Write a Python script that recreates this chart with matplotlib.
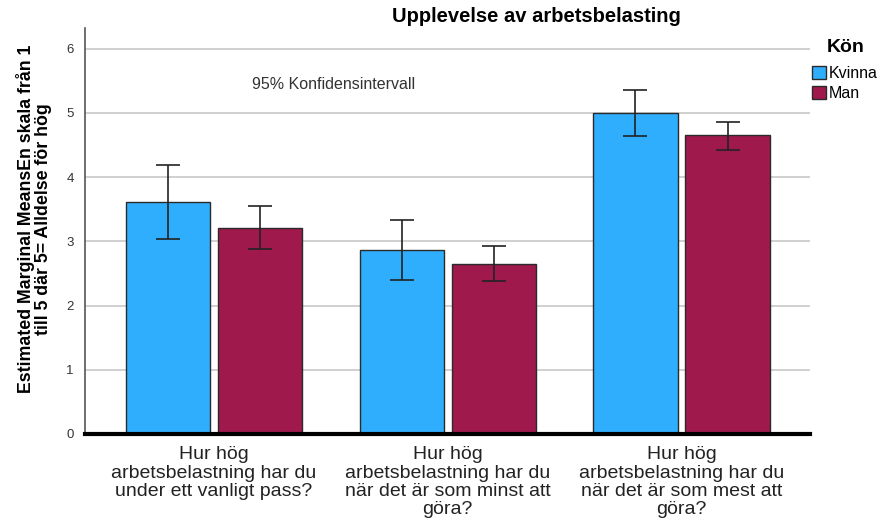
import numpy as np
import matplotlib
matplotlib.use('Agg')
import matplotlib.pyplot as plt
from matplotlib.patches import Patch

plt.rcParams['font.family'] = ['Liberation Sans', 'DejaVu Sans']

categories = ['Hur hög\narbetsbelastning har du\nunder ett vanligt pass?',
              'Hur hög\narbetsbelastning har du\nnär det är som minst att\ngöra?',
              'Hur hög\narbetsbelastning har du\nnär det är som mest att\ngöra?']
kvinna_mean = [3.62, 2.86, 5.00]
kvinna_low = [3.04, 2.40, 4.64]
kvinna_high = [4.19, 3.34, 5.36]
man_mean = [3.21, 2.64, 4.66]
man_low = [2.88, 2.38, 4.43]
man_high = [3.55, 2.92, 4.86]

blue = '#30aefe'
red = '#a0194d'

fig = plt.figure(figsize=(8.82, 5.21), dpi=100)
ax = fig.add_axes([0.0964, 0.167, 0.822, 0.779])

x = np.arange(len(categories))
w = 0.36
off = 0.197

for xs, m, lo, hi, c in [(x - off, kvinna_mean, kvinna_low, kvinna_high, blue),
                         (x + off, man_mean, man_low, man_high, red)]:
    m = np.array(m)
    err = [m - np.array(lo), np.array(hi) - m]
    ax.bar(xs, m, width=w, color=c, edgecolor='#2a2a2a', linewidth=1.0, zorder=2)
    ax.errorbar(xs, m, yerr=err, fmt='none', ecolor='#222222', elinewidth=1.2,
                capsize=8.7, capthick=1.2, zorder=3)

ax.set_xlim(-0.552, 2.55)
ax.set_ylim(0, 6.32)
ax.set_yticks(range(7))
ax.yaxis.grid(True, color='#c8c8c8', linewidth=1.2, zorder=0)
ax.set_axisbelow(True)
ax.tick_params(axis='y', length=0, labelsize=9.5, colors='#333333', pad=8)
ax.set_xticks(x)
ax.set_xticklabels(categories, fontsize=14, color='#222222', linespacing=1.08)
ax.tick_params(axis='x', length=0, pad=9)

for s in ['top', 'right']:
    ax.spines[s].set_visible(False)
ax.spines['left'].set_color('#555555')
ax.spines['left'].set_linewidth(1.2)
ax.spines['bottom'].set_color('black')
ax.spines['bottom'].set_linewidth(3)

ax.set_ylabel('Estimated Marginal MeansEn skala från 1\ntill 5 där 5= Alldelse för hög',
              fontsize=12.8, fontweight='bold', linespacing=1.0)
ax.yaxis.set_label_coords(-0.045, 0.53)

fig.text(0.608, 0.968, 'Upplevelse av arbetsbelasting', ha='center', va='center',
         fontsize=14.5, fontweight='bold')
ax.text(0.511, 5.44, '95% Konfidensintervall', ha='center', va='center', fontsize=11.5,
        color='#333333')

# legend title drawn separately so the gap to the entries matches
fig.text(846 / 882, 1 - 47 / 521, 'Kön', ha='center', va='center',
         fontsize=14, fontweight='bold')
handles = [Patch(facecolor=blue, edgecolor='#2a2a2a'),
           Patch(facecolor=red, edgecolor='#2a2a2a')]
fig.legend(handles, ['Kvinna', 'Man'], loc='upper left',
           bbox_to_anchor=(810 / 882, 1 - 64 / 521), frameon=False, fontsize=11.5,
           handlelength=0.9, handleheight=0.9, handletextpad=0.2,
           labelspacing=0.3, borderpad=0.1, borderaxespad=0)

fig.savefig('out.png', dpi=100)
